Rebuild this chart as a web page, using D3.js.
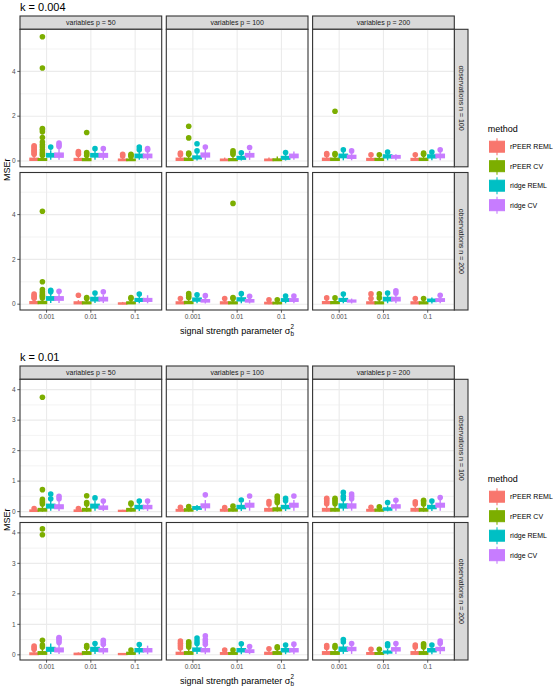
<!DOCTYPE html>
<html><head><meta charset="utf-8">
<script src="https://cdn.jsdelivr.net/npm/d3@7"></script>
<style>body{margin:0;background:#fff}svg{display:block;font-family:"Liberation Sans",Arial,sans-serif}</style>
</head><body><svg id="c" width="553" height="688"></svg>
<script>
const methods = ["rPEER REML","rPEER CV","ridge REML","ridge CV"];
const methodColors = ["#F8766D","#7CAE00","#00BFC4","#C77CFF"];
const sigmaLabels = ["0.001","0.01","0.1"];
const pLabels = ["variables p = 50","variables p = 100","variables p = 200"];
const nLabels = ["observations n = 100","observations n = 200"];
const figTitles = ["k = 0.004","k = 0.01"];
const yDomainK004 = [-0.26, 5.88];
const yDomainK01 = [-0.17, 4.34];
const yMajorK004 = [0,2,4], yMinorK004 = [1,3,5];
const yMajorK01 = [0,1,2,3,4], yMinorK01 = [0.5,1.5,2.5,3.5];

// each box: [lower whisker, q1, median, q3, upper whisker, [outliers]]
// order: sigma 0.001 (4 methods), sigma 0.01 (4), sigma 0.1 (4)
const k004_n100_p50 = [
 [0.01,0.03,0.06,0.12,0.25,[0.3,0.36,0.42,0.48,0.55,0.62,0.68]],
 [0.01,0.03,0.06,0.1,0.2,[0.25,0.32,0.4,0.5,0.62,0.72,0.85,1.05,1.3,1.4,1.45,4.15,5.55]],
 [0.05,0.18,0.25,0.33,0.48,[0.62]],
 [0.05,0.17,0.25,0.35,0.55,[0.65,0.72,0.8]],
 [0.01,0.03,0.06,0.11,0.22,[0.3,0.36,0.42]],
 [0.01,0.02,0.05,0.1,0.2,[0.25,0.32,0.38,1.27]],
 [0.05,0.18,0.25,0.33,0.45,[0.55]],
 [0.05,0.17,0.24,0.33,0.45,[0.55]],
 [0.01,0.02,0.04,0.08,0.15,[0.22,0.3]],
 [0.01,0.02,0.04,0.08,0.15,[0.2,0.25,0.3]],
 [0.05,0.15,0.22,0.3,0.42,[0.5,0.62]],
 [0.05,0.15,0.22,0.3,0.42,[0.5,0.55]]
];
const k004_n100_p100 = [
 [0.01,0.03,0.06,0.12,0.22,[0.28,0.35]],
 [0.01,0.03,0.06,0.12,0.25,[0.3,0.35,1.03,1.55]],
 [0.02,0.1,0.15,0.22,0.35,[0.45,0.77]],
 [0.05,0.18,0.25,0.35,0.5,[0.62]],
 [0.0,0.02,0.04,0.08,0.15,[]],
 [0.01,0.02,0.05,0.1,0.22,[0.3,0.38,0.45]],
 [0.02,0.08,0.13,0.2,0.3,[0.37]],
 [0.05,0.18,0.25,0.33,0.45,[0.6]],
 [0.0,0.02,0.04,0.08,0.15,[]],
 [0.0,0.02,0.04,0.09,0.2,[]],
 [0.02,0.08,0.13,0.2,0.3,[0.38]],
 [0.05,0.15,0.22,0.3,0.42,[]]
];
const k004_n100_p200 = [
 [0.01,0.03,0.06,0.12,0.22,[0.28,0.33]],
 [0.01,0.03,0.06,0.12,0.22,[0.28,0.33,2.22]],
 [0.03,0.15,0.22,0.3,0.4,[0.5]],
 [0.03,0.12,0.18,0.25,0.35,[0.45]],
 [0.01,0.03,0.06,0.11,0.2,[0.28]],
 [0.01,0.03,0.06,0.11,0.2,[0.28]],
 [0.03,0.14,0.2,0.27,0.35,[0.4]],
 [0.03,0.13,0.18,0.24,0.3,[]],
 [0.01,0.03,0.06,0.11,0.2,[0.28]],
 [0.01,0.03,0.06,0.12,0.22,[0.3,0.35]],
 [0.03,0.14,0.2,0.27,0.35,[0.4]],
 [0.03,0.15,0.22,0.3,0.4,[0.5]]
];
const k004_n200_p50 = [
 [0.01,0.03,0.06,0.11,0.2,[0.26,0.32,0.38,0.45]],
 [0.01,0.03,0.06,0.12,0.22,[0.28,0.34,0.4,0.47,0.55,0.65,1.0,4.15]],
 [0.05,0.18,0.25,0.33,0.45,[0.55,0.62]],
 [0.05,0.18,0.25,0.33,0.45,[0.58]],
 [0.01,0.02,0.05,0.1,0.18,[0.4]],
 [0.01,0.02,0.05,0.1,0.2,[0.25,0.3]],
 [0.05,0.15,0.22,0.3,0.4,[0.5]],
 [0.05,0.15,0.22,0.3,0.42,[0.55]],
 [0.0,0.01,0.03,0.05,0.1,[]],
 [0.01,0.02,0.05,0.1,0.2,[0.25,0.3]],
 [0.04,0.13,0.19,0.25,0.35,[0.45]],
 [0.04,0.13,0.19,0.25,0.4,[]]
];
const k004_n200_p100 = [
 [0.01,0.02,0.05,0.1,0.18,[0.25]],
 [0.01,0.03,0.06,0.12,0.22,[0.3,0.38,0.48]],
 [0.04,0.14,0.2,0.27,0.35,[0.42]],
 [0.03,0.1,0.15,0.2,0.3,[0.38]],
 [0.01,0.02,0.05,0.1,0.18,[0.25]],
 [0.01,0.02,0.05,0.1,0.2,[0.25,0.3,4.5]],
 [0.04,0.15,0.22,0.28,0.38,[0.47]],
 [0.03,0.1,0.15,0.2,0.28,[0.35]],
 [0.0,0.02,0.04,0.08,0.15,[0.2]],
 [0.0,0.02,0.04,0.08,0.15,[0.2]],
 [0.04,0.13,0.18,0.24,0.3,[0.36]],
 [0.04,0.13,0.18,0.24,0.3,[0.36]]
];
const k004_n200_p200 = [
 [0.01,0.03,0.06,0.11,0.2,[0.28]],
 [0.01,0.03,0.06,0.11,0.2,[0.28]],
 [0.04,0.13,0.19,0.25,0.35,[0.45]],
 [0.03,0.1,0.14,0.18,0.25,[]],
 [0.01,0.02,0.05,0.1,0.18,[0.25,0.46]],
 [0.01,0.02,0.05,0.1,0.2,[0.28,0.46]],
 [0.04,0.15,0.22,0.3,0.4,[0.5]],
 [0.04,0.15,0.22,0.3,0.42,[0.5,0.6]],
 [0.01,0.02,0.05,0.1,0.18,[0.25]],
 [0.01,0.02,0.05,0.1,0.18,[0.25]],
 [0.03,0.12,0.17,0.22,0.3,[]],
 [0.04,0.13,0.18,0.24,0.32,[0.4]]
];
const k01_n100_p50 = [
 [0.0,0.01,0.03,0.05,0.08,[0.1]],
 [0.0,0.02,0.05,0.1,0.2,[0.25,0.3,0.35,0.4,0.72,3.75]],
 [0.03,0.12,0.18,0.24,0.35,[0.42,0.58]],
 [0.02,0.1,0.15,0.22,0.35,[0.42,0.5]],
 [0.0,0.01,0.03,0.05,0.08,[0.1]],
 [0.0,0.02,0.05,0.1,0.2,[0.25,0.3,0.52]],
 [0.03,0.12,0.18,0.24,0.35,[0.45]],
 [0.02,0.08,0.12,0.18,0.28,[0.35]],
 [0.0,0.01,0.02,0.04,0.06,[]],
 [0.0,0.02,0.05,0.1,0.2,[0.25,0.28]],
 [0.02,0.1,0.15,0.2,0.28,[0.35]],
 [0.02,0.1,0.15,0.2,0.28,[0.35]]
];
const k01_n100_p100 = [
 [0.0,0.02,0.04,0.07,0.1,[0.14]],
 [0.0,0.02,0.05,0.09,0.13,[0.17]],
 [0.02,0.08,0.12,0.16,0.22,[]],
 [0.03,0.13,0.18,0.25,0.38,[0.55]],
 [0.0,0.02,0.04,0.07,0.1,[0.13]],
 [0.0,0.02,0.05,0.09,0.13,[0.18]],
 [0.02,0.1,0.15,0.2,0.3,[0.38]],
 [0.03,0.15,0.2,0.27,0.38,[0.51]],
 [0.0,0.02,0.05,0.1,0.18,[0.25,0.33]],
 [0.0,0.03,0.07,0.12,0.22,[0.3,0.36,0.45,0.51]],
 [0.02,0.1,0.15,0.2,0.3,[0.36,0.44]],
 [0.03,0.15,0.2,0.27,0.38,[0.51]]
];
const k01_n100_p200 = [
 [0.0,0.02,0.05,0.1,0.2,[0.26,0.32,0.38,0.44]],
 [0.0,0.02,0.05,0.1,0.2,[0.26,0.32,0.38,0.44]],
 [0.03,0.12,0.18,0.25,0.35,[0.42,0.5,0.63]],
 [0.03,0.12,0.18,0.25,0.35,[0.42,0.5,0.58]],
 [0.0,0.02,0.04,0.07,0.1,[0.14]],
 [0.0,0.02,0.04,0.08,0.12,[0.16]],
 [0.01,0.05,0.08,0.12,0.2,[0.3]],
 [0.03,0.12,0.16,0.22,0.3,[0.37]],
 [0.0,0.02,0.05,0.1,0.18,[0.25,0.32]],
 [0.0,0.02,0.05,0.1,0.18,[0.25,0.32,0.37]],
 [0.02,0.1,0.15,0.2,0.28,[0.35]],
 [0.03,0.15,0.2,0.27,0.38,[0.46]]
];
const k01_n200_p50 = [
 [0.0,0.01,0.03,0.06,0.12,[0.18,0.24,0.29]],
 [0.0,0.02,0.05,0.1,0.2,[0.26,0.32,0.48,3.94,4.13]],
 [0.03,0.12,0.18,0.24,0.37,[]],
 [0.03,0.1,0.15,0.22,0.33,[0.4,0.47,0.53,0.57]],
 [0.0,0.01,0.03,0.05,0.08,[]],
 [0.0,0.02,0.05,0.1,0.2,[0.25,0.3]],
 [0.03,0.12,0.18,0.24,0.3,[0.37]],
 [0.02,0.1,0.14,0.2,0.28,[0.35,0.42,0.48]],
 [0.0,0.01,0.02,0.04,0.06,[]],
 [0.0,0.02,0.04,0.08,0.13,[0.16]],
 [0.02,0.1,0.14,0.2,0.27,[0.34]],
 [0.02,0.1,0.14,0.2,0.3,[]]
];
const k01_n200_p100 = [
 [0.0,0.02,0.04,0.08,0.15,[0.22,0.3,0.38,0.45]],
 [0.0,0.02,0.05,0.1,0.2,[0.26,0.32,0.38,0.43]],
 [0.03,0.12,0.17,0.22,0.3,[0.37,0.45,0.55]],
 [0.02,0.1,0.14,0.2,0.28,[0.35,0.43,0.5,0.62]],
 [0.0,0.02,0.04,0.07,0.12,[0.16]],
 [0.0,0.02,0.04,0.07,0.12,[0.16]],
 [0.02,0.1,0.15,0.2,0.28,[0.36]],
 [0.02,0.08,0.12,0.16,0.22,[0.27]],
 [0.0,0.02,0.04,0.08,0.14,[0.2]],
 [0.0,0.02,0.05,0.1,0.16,[0.22,0.26]],
 [0.02,0.1,0.15,0.2,0.25,[0.32]],
 [0.02,0.1,0.15,0.2,0.28,[0.35]]
];
const k01_n200_p200 = [
 [0.0,0.02,0.05,0.1,0.18,[0.24,0.3]],
 [0.0,0.02,0.05,0.1,0.18,[0.24,0.3]],
 [0.03,0.12,0.18,0.25,0.35,[0.42,0.5]],
 [0.03,0.14,0.19,0.24,0.3,[0.37]],
 [0.0,0.02,0.04,0.07,0.12,[0.18]],
 [0.0,0.02,0.04,0.07,0.12,[0.18]],
 [0.01,0.06,0.09,0.12,0.2,[0.3,0.36]],
 [0.03,0.13,0.18,0.23,0.3,[0.37]],
 [0.0,0.02,0.05,0.1,0.2,[0.26,0.32]],
 [0.0,0.02,0.05,0.1,0.2,[0.26,0.32,0.36]],
 [0.02,0.1,0.15,0.2,0.25,[0.32]],
 [0.03,0.14,0.19,0.24,0.32,[0.38,0.45]]
];

const figures = [
 {title: figTitles[0], offset: 0, yDomain: yDomainK004, major: yMajorK004, minor: yMinorK004,
  panels: [[k004_n100_p50,k004_n100_p100,k004_n100_p200],[k004_n200_p50,k004_n200_p100,k004_n200_p200]]},
 {title: figTitles[1], offset: 350, yDomain: yDomainK01, major: yMajorK01, minor: yMinorK01,
  panels: [[k01_n100_p50,k01_n100_p100,k01_n100_p200],[k01_n200_p50,k01_n200_p100,k01_n200_p200]]}
];

const svg = d3.select("#c");
const L = {px0: 20, pw: 141.7, gx: 4.6, stripTop: 16, stripH: 13.3, rowTops: [29.3, 172.5], rh: 137.5, rsW: 13.7};
const border = "#333333";

const x = d3.scaleLinear().domain([0.4, 3.6]).range([0, L.pw]);
const dodge = 0.75, nM = methods.length, bw = dodge / nM;

figures.forEach(fig => {
  const g = svg.append("g").attr("transform", `translate(0,${fig.offset})`);
  const y = d3.scaleLinear().domain(fig.yDomain).range([L.rh, 0]);

  g.append("text").attr("x", 20).attr("y", 10.8).attr("font-size", 11).attr("fill", "#000").text(fig.title);

  // top strips
  pLabels.forEach((lab, c) => {
    const px = L.px0 + c * (L.pw + L.gx);
    g.append("rect").attr("x", px).attr("y", L.stripTop).attr("width", L.pw).attr("height", L.stripH)
      .attr("fill", "#D9D9D9").attr("stroke", border).attr("stroke-width", 1.1);
    g.append("text").attr("x", px + L.pw / 2).attr("y", L.stripTop + L.stripH / 2 + 2.4)
      .attr("text-anchor", "middle").attr("font-size", 7).attr("fill", "#1A1A1A").text(lab);
  });

  fig.panels.forEach((row, r) => {
    const py = L.rowTops[r];
    // right strip
    const sx = L.px0 + 3 * L.pw + 2 * L.gx;
    g.append("rect").attr("x", sx).attr("y", py).attr("width", L.rsW).attr("height", L.rh)
      .attr("fill", "#D9D9D9").attr("stroke", border).attr("stroke-width", 1.1);
    g.append("text").attr("transform", `translate(${sx + L.rsW / 2 - 2.4},${py + L.rh / 2}) rotate(90)`)
      .attr("text-anchor", "middle").attr("font-size", 7).attr("fill", "#1A1A1A").text(nLabels[r]);

    row.forEach((panelData, c) => {
      const px = L.px0 + c * (L.pw + L.gx);
      const pg = g.append("g").attr("transform", `translate(${px},${py})`);
      pg.append("rect").attr("width", L.pw).attr("height", L.rh).attr("fill", "#fff");
      fig.minor.forEach(v => pg.append("line").attr("x1", 0).attr("x2", L.pw).attr("y1", y(v)).attr("y2", y(v))
        .attr("stroke", "#EBEBEB").attr("stroke-width", 0.6));
      fig.major.forEach(v => pg.append("line").attr("x1", 0).attr("x2", L.pw).attr("y1", y(v)).attr("y2", y(v))
        .attr("stroke", "#EBEBEB").attr("stroke-width", 1.1));
      sigmaLabels.forEach((s, i) => pg.append("line").attr("x1", x(i + 1)).attr("x2", x(i + 1)).attr("y1", 0).attr("y2", L.rh)
        .attr("stroke", "#EBEBEB").attr("stroke-width", 1.1));

      panelData.forEach((b, k) => {
        const si = Math.floor(k / nM), mi = k % nM;
        const col = methodColors[mi];
        const cx = x(si + 1 + (mi - (nM - 1) / 2) * bw);
        const hw = (x(bw) - x(0)) / 2;
        const [lo, q1, med, q3, hi, outs] = b;
        pg.append("line").attr("x1", cx).attr("x2", cx).attr("y1", y(lo)).attr("y2", y(q1)).attr("stroke", col).attr("stroke-width", 1.4);
        pg.append("line").attr("x1", cx).attr("x2", cx).attr("y1", y(q3)).attr("y2", y(hi)).attr("stroke", col).attr("stroke-width", 1.4);
        pg.append("rect").attr("x", cx - hw).attr("width", 2 * hw).attr("y", y(q3)).attr("height", Math.max(0.1, y(q1) - y(q3)))
          .attr("fill", col).attr("stroke", col).attr("stroke-width", 1.4);
        pg.append("line").attr("x1", cx - hw).attr("x2", cx + hw).attr("y1", y(med)).attr("y2", y(med)).attr("stroke", col).attr("stroke-width", 1.6);
        outs.forEach(o => pg.append("circle").attr("cx", cx).attr("cy", y(o)).attr("r", 2.8).attr("fill", col));
      });

      pg.append("rect").attr("width", L.pw).attr("height", L.rh).attr("fill", "none").attr("stroke", border).attr("stroke-width", 1.1);

      if (c === 0) {
        fig.major.forEach(v => {
          g.append("line").attr("x1", px - 2.7).attr("x2", px).attr("y1", py + y(v)).attr("y2", py + y(v)).attr("stroke", border).attr("stroke-width", 0.8);
          g.append("text").attr("x", px - 4.5).attr("y", py + y(v) + 2.3).attr("text-anchor", "end")
            .attr("font-size", 6.5).attr("fill", "#4D4D4D").text(d3.format("~g")(v));
        });
      }
      if (r === fig.panels.length - 1) {
        sigmaLabels.forEach((s, i) => {
          g.append("line").attr("x1", px + x(i + 1)).attr("x2", px + x(i + 1)).attr("y1", py + L.rh).attr("y2", py + L.rh + 2.7)
            .attr("stroke", border).attr("stroke-width", 0.8);
          g.append("text").attr("x", px + x(i + 1)).attr("y", py + L.rh + 9.2).attr("text-anchor", "middle")
            .attr("font-size", 6.5).attr("fill", "#4D4D4D").text(s);
        });
      }
    });
  });

  // axis titles
  const plotL = L.px0, plotR = L.px0 + 3 * L.pw + 2 * L.gx;
  const xt = g.append("text").attr("y", 334).attr("font-size", 9).attr("fill", "#000").text("signal strength parameter σ");
  const w = xt.node().getComputedTextLength();
  const x0 = (plotL + plotR) / 2 - (w + 4) / 2;
  xt.attr("x", x0);
  g.append("text").attr("x", x0 + w + 0.3).attr("y", 336.3).attr("font-size", 6.3).attr("fill", "#000").text("b");
  g.append("text").attr("x", x0 + w + 0.3).attr("y", 328.5).attr("font-size", 6.3).attr("fill", "#000").text("2");

  const midY = (L.rowTops[0] + L.rowTops[1] + L.rh) / 2;
  g.append("text").attr("transform", `translate(10,${midY}) rotate(-90)`).attr("text-anchor", "middle")
    .attr("font-size", 9).attr("fill", "#000").text("MSEr");

  // legend
  g.append("text").attr("x", 487.7).attr("y", 132.3).attr("font-size", 9).attr("fill", "#000").text("method");
  methods.forEach((m, j) => {
    const cy = 146.7 + j * 19.5, cx = 497;
    g.append("line").attr("x1", cx).attr("x2", cx).attr("y1", cy - 8.5).attr("y2", cy + 8.5).attr("stroke", methodColors[j]).attr("stroke-width", 1.1);
    g.append("rect").attr("x", cx - 7.5).attr("y", cy - 5.5).attr("width", 15).attr("height", 11)
      .attr("fill", methodColors[j]).attr("stroke", methodColors[j]).attr("stroke-width", 1);
    g.append("text").attr("x", 510).attr("y", cy + 2.5).attr("font-size", 7).attr("fill", "#000").text(m);
  });
});
</script></body></html>
